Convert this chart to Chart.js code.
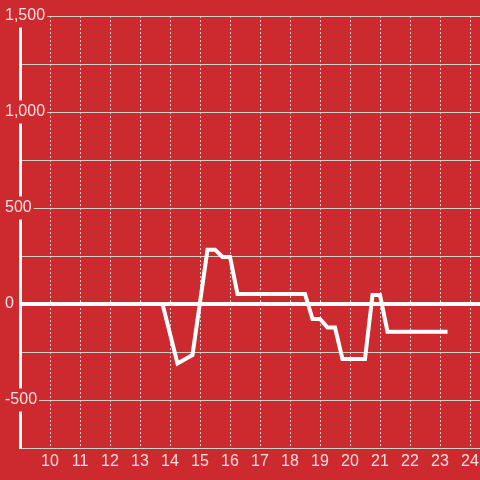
<!DOCTYPE html>
<html>
<head>
<meta charset="utf-8">
<style>
  html, body { margin: 0; padding: 0; background: #cc2a2f; }
  canvas { display: block; }
</style>
<script src="https://cdn.jsdelivr.net/npm/chart.js"></script>
</head>
<body>
<canvas id="chart" width="480" height="480"></canvas>
<script>
// data (hour of day -> value)
const hours  = [9, 13.75, 14.25, 14.75, 15.25, 15.5, 15.75, 16, 16.25, 18.5, 18.75, 19, 19.25, 19.5, 19.75, 20.5, 20.75, 21, 21.25, 23.25];
const values = [0, 0, -310, -265, 283, 283, 245, 245, 52, 52, -78, -78, -123, -123, -287, -287, 47, 47, -144, -144];

// axis ranges and labelled ticks
const xRange = [9, 24 + 1 / 3];
const yRange = [-750, 1500];
const xTickLabels = [10, 11, 12, 13, 14, 15, 16, 17, 18, 19, 20, 21, 22, 23, 24];
const yTickLabels = [-500, 0, 500, 1000, 1500];

const palette = {
    bg: '#cc2a2f',
    line: '#ffffff',
    grid: '#cfcfcf',
    text: 'rgba(255, 255, 255, 0.85)'
};

const font = { family: '"Liberation Sans", Arial, sans-serif', size: 16 };

new Chart(document.getElementById('chart').getContext('2d'), {
    type: 'line',
    data: {
        datasets: [{
            data: hours.map((h, i) => ({ x: h, y: values[i] })),
            borderColor: palette.line,
            borderWidth: 4,
            pointRadius: 0,
            tension: 0,
            fill: false
        }]
    },
    options: {
        responsive: false,
        animation: false,
        layout: { padding: { top: 16, left: 4, right: 0, bottom: 0 } },
        plugins: {
            legend: { display: false },
            tooltip: { enabled: false }
        },
        scales: {
            x: {
                type: 'linear',
                min: xRange[0],
                max: xRange[1],
                grid: { color: palette.grid, lineWidth: 1, drawTicks: false },
                border: { color: palette.grid, width: 1, dash: [2, 2] },
                ticks: {
                    stepSize: 1,
                    includeBounds: false,
                    autoSkip: false,
                    maxRotation: 0,
                    padding: 4,
                    color: palette.text,
                    font: font,
                    callback: v => xTickLabels.includes(v) ? String(v) : ''
                },
                afterFit: scale => {
                    scale.height = 32;
                    scale.paddingLeft = 0;
                    scale.paddingRight = 0;
                }
            },
            y: {
                min: yRange[0],
                max: yRange[1],
                grid: {
                    drawTicks: false,
                    color: c => c.tick && c.tick.value === 0 ? palette.line : palette.grid,
                    lineWidth: c => c.tick && c.tick.value === 0 ? 4 : 1
                },
                border: { color: palette.line, width: 3 },
                ticks: {
                    stepSize: 250,
                    // mirror keeps the labels from being clipped to the narrow axis box
                    mirror: true,
                    crossAlign: 'near',
                    padding: -15,
                    color: palette.text,
                    font: font,
                    showLabelBackdrop: true,
                    backdropColor: palette.bg,
                    backdropPadding: 2,
                    callback: v => yTickLabels.includes(v) ? v.toLocaleString('en-US') : ''
                },
                afterFit: scale => { scale.width = 16; }
            }
        }
    }
});
</script>
</body>
</html>
